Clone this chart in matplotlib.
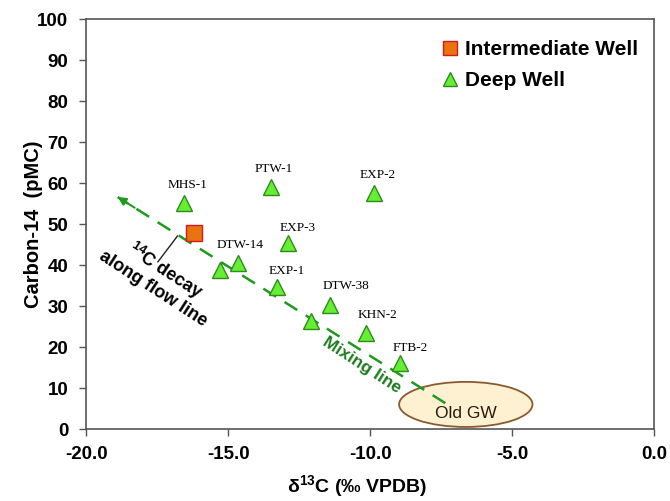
import matplotlib
matplotlib.use("Agg")
import matplotlib.pyplot as plt
from matplotlib.lines import Line2D
from matplotlib.patches import Ellipse

plt.rcParams['font.family'] = ['Liberation Sans', 'DejaVu Sans']
plt.rcParams['mathtext.fontset'] = 'custom'
plt.rcParams['mathtext.rm'] = 'Liberation Sans:bold'
plt.rcParams['mathtext.default'] = 'rm'

# intermediate well
inter_d13c = [-16.2]
inter_c14 = [47.8]

# deep wells
deep_names = ["MHS-1", "PTW-1", "EXP-2", "EXP-3", "DTW-14", "", "EXP-1",
              "DTW-38", "", "KHN-2", "FTB-2"]
deep_d13c = [-16.55, -13.5, -9.85, -12.9, -14.65, -15.3, -13.3,
             -11.4, -12.1, -10.15, -8.95]
deep_c14 = [55.1, 59.0, 57.6, 45.4, 40.5, 38.8, 34.6,
            30.2, 26.3, 23.4, 16.1]

# mixing / decay line end points
line_start = (-7.35, 6.3)
line_end = (-18.9, 56.6)

# old groundwater end member
old_gw_center = (-6.63, 6.0)
old_gw_width = 4.7
old_gw_height = 11.0

fig = plt.figure(figsize=(6.7, 5.01), dpi=100)
ax = fig.add_axes([0.129, 0.1437, 0.847, 0.818])

ax.set_xlim(-20, 0)
ax.set_ylim(0, 100)

# old GW ellipse
ell = Ellipse(old_gw_center, old_gw_width, old_gw_height,
              facecolor='#FDF1D2', edgecolor='#8A5A2E', linewidth=1.3, zorder=2)
ax.add_patch(ell)
ax.text(old_gw_center[0], old_gw_center[1] - 2.1, "Old GW", ha='center', va='center',
        fontsize=12.5, color='#2A1A0A', zorder=3)

# dashed arrow
ax.plot([line_start[0], line_end[0]], [line_start[1], line_end[1]],
        color='#1E9A1E', lw=1.8, dashes=(6, 4), zorder=3)
ax.annotate("", xy=line_end, xytext=(line_end[0] + 0.6, line_end[1] - 2.6),
            arrowprops=dict(arrowstyle='-|>', color='#1E9A1E', lw=1.5,
                            mutation_scale=12, shrinkA=0, shrinkB=0), zorder=4)

# leader line to decay label
ax.plot([-16.79, -17.48], [47.1, 40.8], color='#222222', lw=1.0, zorder=3)

ax.text(-17.4, 36.6, "$^{14}$C decay\nalong flow line", rotation=-33,
        rotation_mode='anchor', ha='center', va='center', fontsize=13,
        fontweight='bold', color='black', linespacing=1.05)

ax.text(-10.3, 15.6, "Mixing line", rotation=-33, ha='center', va='center',
        fontsize=12.5, fontweight='bold', color='#1E7B1E')

# markers
ax.plot(deep_d13c, deep_c14, linestyle='none', marker='^', markersize=12,
        markerfacecolor='#66EE33', markeredgecolor='#2E8B1E', markeredgewidth=1.0,
        zorder=5)
ax.plot(inter_d13c, inter_c14, linestyle='none', marker='s', markersize=11,
        markerfacecolor='#E8730F', markeredgecolor='#D41A1A', markeredgewidth=1.0,
        zorder=5)

# well labels
label_offsets = {"MHS-1": (0.1, 4.4), "PTW-1": (0.1, 4.4), "EXP-2": (0.1, 4.4),
                 "EXP-3": (0.35, 3.6), "DTW-14": (0.05, 4.3), "EXP-1": (0.35, 4.0),
                 "DTW-38": (0.55, 4.6), "KHN-2": (0.4, 4.4), "FTB-2": (0.35, 3.6)}
for name, x, y in zip(deep_names, deep_d13c, deep_c14):
    if not name:
        continue
    dx, dy = label_offsets[name]
    ax.text(x + dx, y + dy, name, ha='center', va='center', fontsize=9.5,
            family=['Liberation Serif', 'DejaVu Serif'], zorder=6)

# axes styling
for side in ['left', 'bottom', 'right', 'top']:
    ax.spines[side].set_color('#555555')
    ax.spines[side].set_linewidth(1.2)
ax.set_xticks([-20, -15, -10, -5, 0])
ax.set_xticklabels(["-20.0", "-15.0", "-10.0", "-5.0", "0.0"])
ax.set_yticks(range(0, 101, 10))
ax.tick_params(axis='both', direction='out', length=5, width=1.0, color='#555555',
               labelsize=13.5)
ax.tick_params(axis='x', pad=7)
ax.tick_params(axis='y', pad=8)
for lab in ax.get_xticklabels() + ax.get_yticklabels():
    lab.set_fontweight('bold')

ax.set_ylabel("Carbon-14  (pMC)", fontsize=14.5, fontweight='bold')
ax.yaxis.set_label_coords(-0.077, 0.5)
ax.set_xlabel(r"$\mathregular{\delta}^{13}$C (‰ VPDB)", fontsize=14,
              fontweight='bold')
ax.xaxis.set_label_coords(0.477, -0.108)

handles = [
    Line2D([], [], linestyle='none', marker='s', markersize=10,
           markerfacecolor='#E8730F', markeredgecolor='#D41A1A', label='Intermediate Well'),
    Line2D([], [], linestyle='none', marker='^', markersize=10,
           markerfacecolor='#66EE33', markeredgecolor='#2E8B1E', label='Deep Well'),
]
ax.legend(handles=handles, loc='upper right', bbox_to_anchor=(1.005, 0.995),
          frameon=False, prop={'weight': 'bold', 'size': 15},
          handlelength=0.8, handletextpad=0.3, labelspacing=0.6)

fig.savefig("out.png", dpi=100)
